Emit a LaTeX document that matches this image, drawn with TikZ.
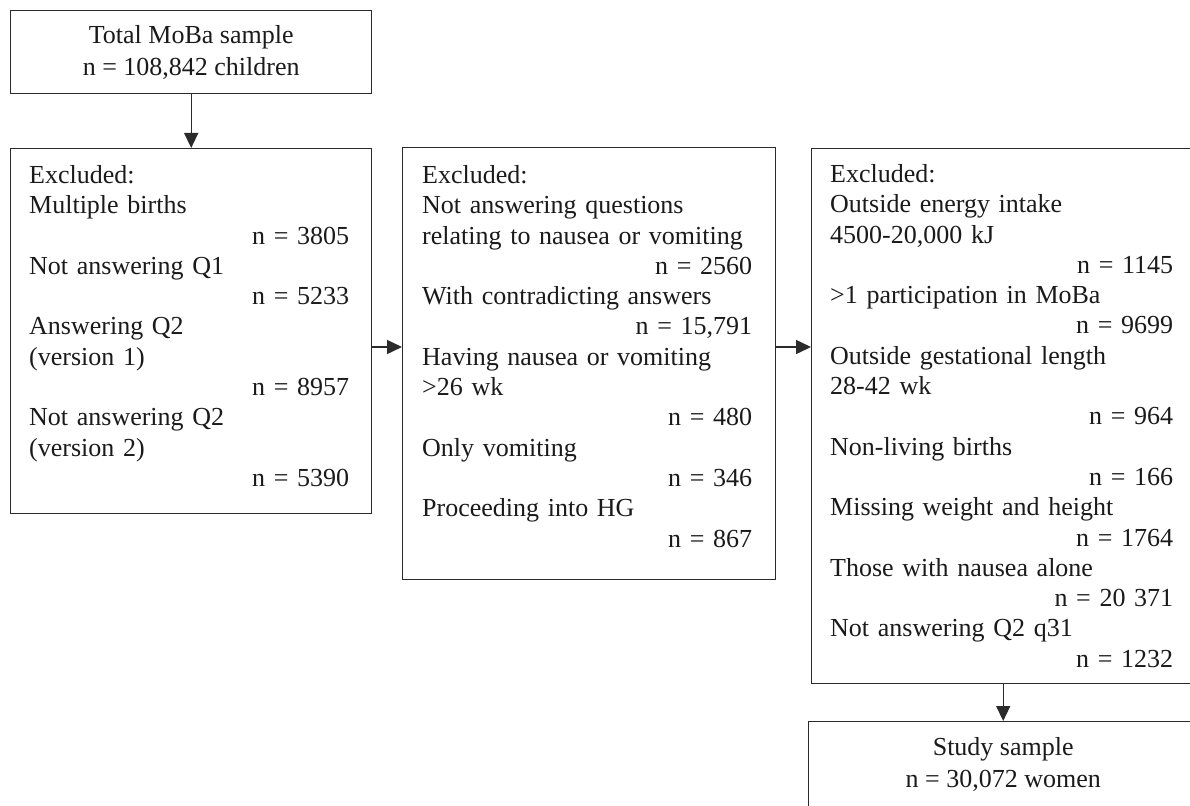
\documentclass[tikz,border=0pt]{standalone}
\usepackage{fontspec}
\setmainfont{Liberation Serif}
\usetikzlibrary{arrows.meta,positioning}
\definecolor{framegray}{HTML}{2B2B2B}
\definecolor{textblack}{HTML}{1A1A1A}
\tikzset{
  >={Triangle[length=15pt,width=14pt]},
  flowbox/.style={
    rectangle, draw=framegray, line width=1.4pt, inner sep=0pt,
    anchor=north west, text=textblack
  },
  endbox/.style={flowbox, align=center, font=\fontsize{26}{32}\selectfont},
  excltext/.style={
    inner sep=0pt, align=left, text=textblack,
    font=\fontsize{26}{30.3}\selectfont
  },
  arrow/.style={->, line width=1.4pt, draw=framegray}
}
\newcommand{\ncount}[1]{\hspace*{\fill}n = #1}

\begin{document}
\begin{tikzpicture}[x=1pt,y=-1pt]
\useasboundingbox (0,0) rectangle (1190,805);
\clip (0,0) rectangle (1190,805);
% boxes
\node[endbox, minimum width=361pt, minimum height=83pt] (total) at (10,10) {Total MoBa sample\\n = 108,842 children};
\node[flowbox, minimum width=361pt, minimum height=365pt] (excl1) at (10,148) {};
\node[flowbox, minimum width=373pt, minimum height=432pt] (excl2) at (402,147) {};
\node[flowbox, minimum width=383pt, minimum height=535pt] (excl3) at (811,148) {};
\node[endbox, minimum width=389pt, minimum height=85pt] (study) at (808,721) {Study sample\\n = 30,072 women};
% exclusion lists
\node[excltext, text width=320pt, below right=0pt and 19pt of excl1.north west, yshift=-14pt] (list1) {%
\strut Excluded:\\
Multiple births\\
\ncount{3805}\\
Not answering Q1\\
\ncount{5233}\\
Answering Q2\\
(version 1)\\
\ncount{8957}\\
Not answering Q2\\
(version 2)\\
\ncount{5390}};
\node[excltext, text width=330pt, below right=0pt and 20pt of excl2.north west, yshift=-15pt] (list2) {%
\strut Excluded:\\
Not answering questions\\
relating to nausea or vomiting\\
\ncount{2560}\\
With contradicting answers\\
\ncount{15,791}\\
Having nausea or vomiting\\
>26 wk\\
\ncount{480}\\
Only vomiting\\
\ncount{346}\\
Proceeding into HG\\
\ncount{867}};
\node[excltext, text width=343pt, below right=0pt and 19pt of excl3.north west, yshift=-13pt] (list3) {%
\strut Excluded:\\
Outside energy intake\\
4500-20,000 kJ\\
\ncount{1145}\\
>1 participation in MoBa\\
\ncount{9699}\\
Outside gestational length\\
28-42 wk\\
\ncount{964}\\
Non-living births\\
\ncount{166}\\
Missing weight and height\\
\ncount{1764}\\
Those with nausea alone\\
\ncount{20 371}\\
Not answering Q2 q31\\
\ncount{1232}};
% connectors
\coordinate (arrowrow) at (0,347);
\draw[arrow] (total.south) -- (excl1.north);
\draw[arrow] (excl1.east |- arrowrow) -- (excl2.west |- arrowrow);
\draw[arrow] (excl2.east |- arrowrow) -- (excl3.west |- arrowrow);
\draw[arrow] (excl3.south) -- (study.north);
\end{tikzpicture}
\end{document}
